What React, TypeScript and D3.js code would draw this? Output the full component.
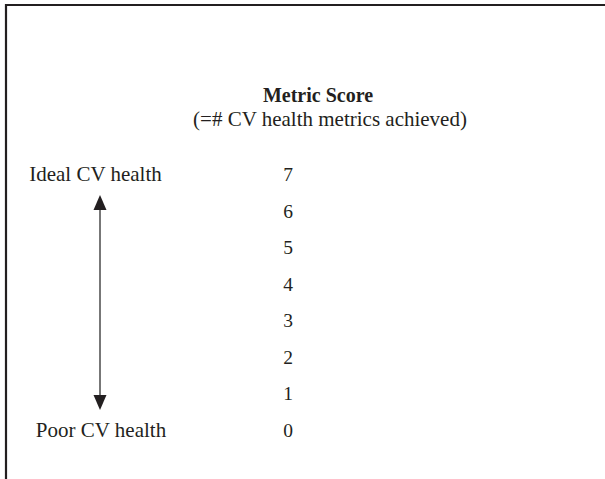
import React, { useRef, useEffect } from 'react';
import * as d3 from 'd3';

const scores = [7, 6, 5, 4, 3, 2, 1, 0];
const topLabel = 'Ideal CV health';
const bottomLabel = 'Poor CV health';
const title = 'Metric Score';
const subtitle = '(=# CV health metrics achieved)';

const App = () => {
  const svgRef = useRef(null);

  useEffect(() => {
    const svg = d3.select(svgRef.current);
    svg.selectAll('*').remove();

    const width = 605;
    const height = 479;
    const font = '"Liberation Serif", "Times New Roman", serif';
    const ink = '#231f20';

    // y position of each score (text baseline)
    const yScale = d3.scaleLinear().domain([0, 7]).range([437, 181]);

    // frame: top and left edge only
    svg
      .append('path')
      .attr('d', `M6,${height} L6,5 L${width},5`)
      .attr('fill', 'none')
      .attr('stroke', ink)
      .attr('stroke-width', 2.2);

    svg
      .append('text')
      .attr('x', 318)
      .attr('y', 102)
      .attr('text-anchor', 'middle')
      .attr('font-family', font)
      .attr('font-weight', 'bold')
      .attr('font-size', 20)
      .attr('fill', ink)
      .text(title);

    svg
      .append('text')
      .attr('x', 330)
      .attr('y', 126)
      .attr('text-anchor', 'middle')
      .attr('font-family', font)
      .attr('font-size', 21)
      .attr('fill', ink)
      .text(subtitle);

    svg
      .selectAll('.score')
      .data(scores)
      .enter()
      .append('text')
      .attr('class', 'score')
      .attr('x', 288)
      .attr('y', d => yScale(d))
      .attr('text-anchor', 'middle')
      .attr('font-family', font)
      .attr('font-size', 19.5)
      .attr('fill', ink)
      .text(d => d);

    svg
      .append('text')
      .attr('x', 95.5)
      .attr('y', yScale(7))
      .attr('text-anchor', 'middle')
      .attr('font-family', font)
      .attr('font-size', 21)
      .attr('fill', ink)
      .text(topLabel);

    svg
      .append('text')
      .attr('x', 101)
      .attr('y', yScale(0))
      .attr('text-anchor', 'middle')
      .attr('font-family', font)
      .attr('font-size', 21)
      .attr('fill', ink)
      .text(bottomLabel);

    // double-headed arrow between the two labels
    const ax = 100;
    const tipTop = 195;
    const tipBottom = 410;
    const head = 15;
    svg
      .append('line')
      .attr('x1', ax)
      .attr('x2', ax)
      .attr('y1', tipTop + head)
      .attr('y2', tipBottom - head)
      .attr('stroke', '#555')
      .attr('stroke-width', 1.6);

    svg
      .append('path')
      .attr('d', `M${ax},${tipTop} L${ax - 6.5},${tipTop + head} L${ax + 6.5},${tipTop + head} Z`)
      .attr('fill', ink);

    svg
      .append('path')
      .attr('d', `M${ax},${tipBottom} L${ax - 6.5},${tipBottom - head} L${ax + 6.5},${tipBottom - head} Z`)
      .attr('fill', ink);
  }, []);

  return (
    <svg
      ref={svgRef}
      width={605}
      height={479}
      style={{ position: 'absolute', left: 0, top: 0, background: '#fff' }}
    />
  );
};

export default App;
